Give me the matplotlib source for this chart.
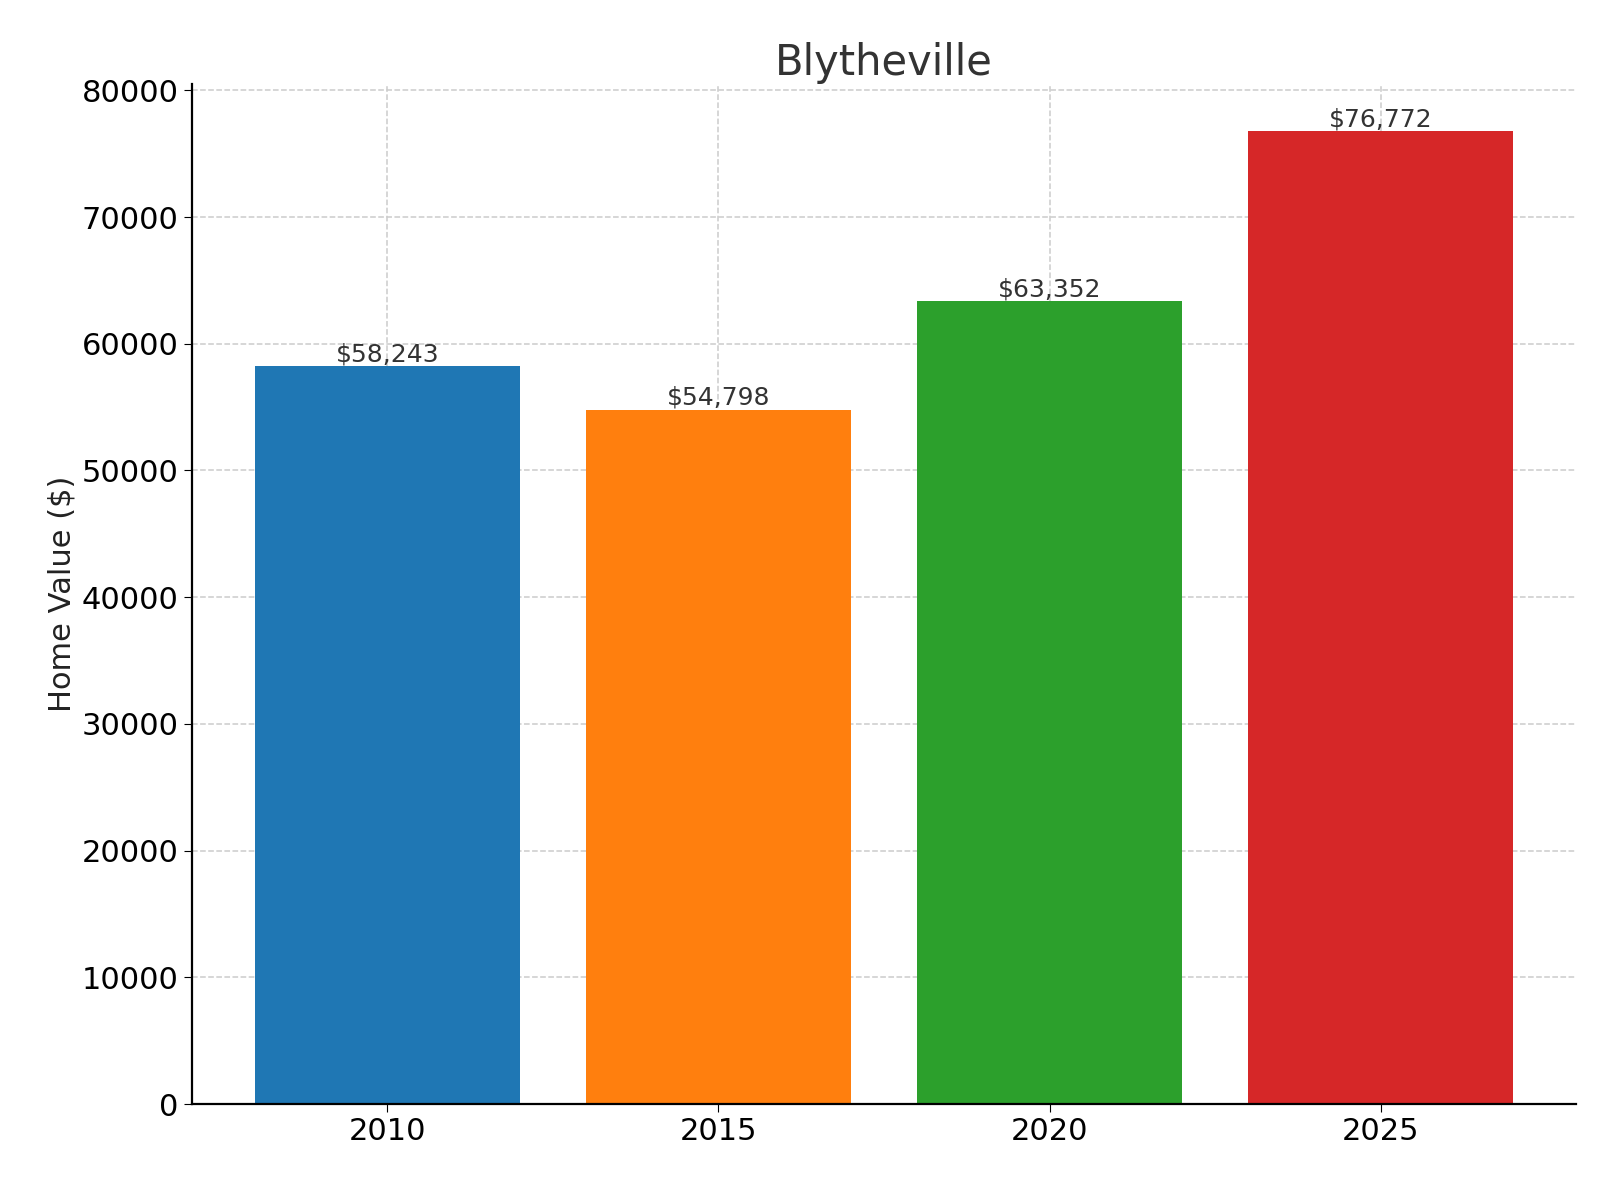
import matplotlib
matplotlib.use("Agg")
import matplotlib.pyplot as plt

# ── Data ──────────────────────────────────────────────────────────────────────
years  = ["2010", "2015", "2020", "2025"]
values = [58243, 54798, 63352, 76772]
colors = ["#1f77b4", "#ff7f0e", "#2ca02c", "#d62728"]

# ── Figure ────────────────────────────────────────────────────────────────────
fig, ax = plt.subplots(figsize=(16, 12), dpi=100)
fig.subplots_adjust(left=0.12, right=0.985, top=0.93, bottom=0.08)

bars = ax.bar(years, values, color=colors, width=0.8, zorder=2)
for b, v in zip(bars, values):
    ax.text(b.get_x() + b.get_width() / 2, v, f"${v:,}",
            ha="center", va="bottom", fontsize=18, color="#333333")

ax.set_title("Blytheville", fontsize=30, color="#333333")
ax.set_ylabel("Home Value ($)", fontsize=22, color="#222222")
ax.set_ylim(0, 80500)
ax.set_yticks(range(0, 80001, 10000))
ax.tick_params(labelsize=22, length=6)
ax.grid(True, ls="--", color="#cccccc", lw=1.1, zorder=3)
for s in ("top", "right"):
    ax.spines[s].set_visible(False)
for s in ("left", "bottom"):
    ax.spines[s].set_linewidth(1.6)

plt.savefig("out.png", dpi=100)
